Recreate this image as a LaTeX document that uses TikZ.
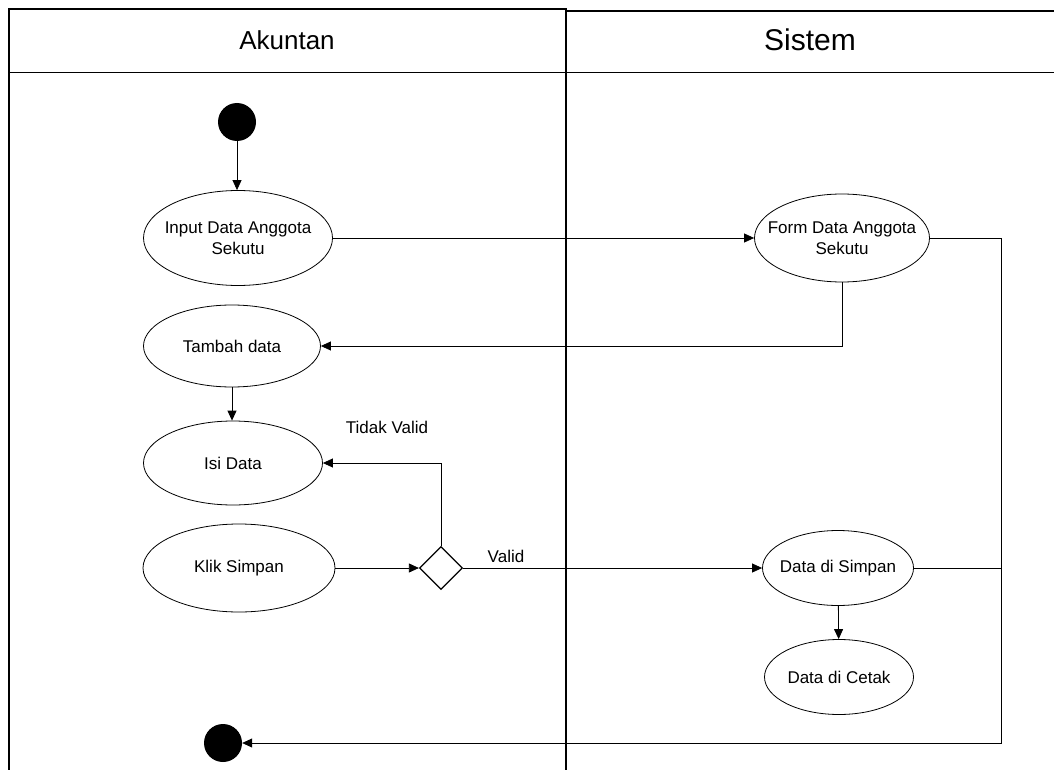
\documentclass[tikz,border=0pt]{standalone}
\usepackage{fontspec}
\setmainfont{Liberation Sans}
\usetikzlibrary{positioning,shapes.geometric,arrows.meta}

\begin{document}
\begin{tikzpicture}[x=1pt, y=-1pt,
	lane/.style = {draw, line width=1.4pt},
	activity/.style = {shape=ellipse, draw, line width=0.8pt, align=center,
		inner xsep=-14pt, inner ysep=0pt, font=\fontsize{17}{21}\selectfont},
	dot/.style = {shape=circle, fill=black, minimum size=38pt, inner sep=0pt},
	choice/.style = {shape=diamond, draw, line width=1.2pt, minimum size=43pt, inner sep=0pt},
	flow/.style = {draw, line width=0.8pt, -{Triangle[length=10pt,width=9pt]}},
	link/.style = {draw, line width=0.8pt},
	lbl/.style = {font=\fontsize{17}{21}\selectfont}]
	\useasboundingbox (0,0) rectangle (1054,770);
	\draw[lane] (9,770) -- (9,9) -- (566,9) -- (566,770);
	\draw[lane] (566,11) -- (1056,11);
	\draw[line width=0.9pt] (9,72) -- (1056,72);
	\node[font=\fontsize{26}{30}\selectfont] (akuntan) at (287,40) {Akuntan};
	\node[font=\fontsize{30}{34}\selectfont] (sistem) at (810,40) {Sistem};

	\node[dot] (start) at (237,122) {};
	\node[activity, minimum width=189pt, minimum height=95pt] (input) at (238,238) {Input Data Anggota\\Sekutu};
	\node[activity, minimum width=177pt, minimum height=82pt] (tambah) at (232,346) {Tambah data};
	\node[activity, minimum width=179pt, minimum height=84pt] (isi) at (233,463) {Isi Data};
	\node[activity, minimum width=192pt, minimum height=88pt] (klik) at (239,568) {Klik Simpan};
	\node[choice] (cek) at (441,568) {};
	\node[activity, minimum width=175pt, minimum height=88pt] (form) at (842,238) {Form Data Anggota\\Sekutu};
	\node[activity, minimum width=151pt, minimum height=75pt] (simpan) at (838,568) {Data di Simpan};
	\node[activity, minimum width=149pt, minimum height=75pt] (cetak) at (839,677) {Data di Cetak};
	\node[dot] (stop) at (223,743) {};
	\node[lbl] (tidak) at (387,427) {Tidak Valid};
	\node[lbl] (valid) at (506,556) {Valid};
	\coordinate (atas) at (1001,238);
	\coordinate (bawah) at (1001,743);

	\draw[flow] (start) -- (start |- input.north);
	\draw[flow] (input) -- (form);
	\draw[flow] (form.south) |- (tambah.east);
	\draw[flow] (tambah) -- (tambah |- isi.north);
	\draw[flow] (klik) -- (cek);
	\draw[flow] (cek.north) |- (isi.east);
	\draw[flow] (cek) -- (simpan);
	\draw[flow] (simpan) -- (cetak);
	\draw[link] (form.east) -- (atas);
	\draw[link] (simpan.east) -- (simpan -| atas);
	\draw[flow] (atas) -- (bawah) -- (stop);
\end{tikzpicture}
\end{document}
